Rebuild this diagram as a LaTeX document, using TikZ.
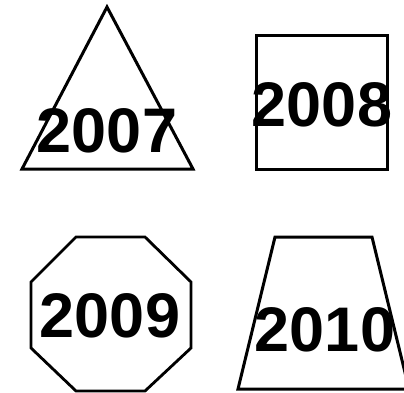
\documentclass[tikz,border=0pt]{standalone}
\usepackage{fontspec}
\setmainfont{Liberation Sans}
\begin{document}
\begin{tikzpicture}[x=1pt,y=-1pt,line join=miter,
  every node/.style={font=\fontsize{63}{63}\selectfont\bfseries,inner sep=0pt}]
  \useasboundingbox (0,0) rectangle (404,393);
  % shapes
  \draw[line width=3pt] (107,7) -- (193,169) -- (22,169) -- cycle;
  \draw[line width=3pt] (256,36) rectangle (387,169);
  \draw[line width=2.8pt] (76,237) -- (145,237) -- (191,282) -- (191,348) -- (145,391) -- (76,391) -- (31,348) -- (31,282) -- cycle;
  \draw[line width=3pt] (275,237) -- (372,237) -- (409,389) -- (238,389) -- cycle;
  % years
  \node (y2007) at (107,131) {2007};
  \node (y2008) at (322,105) {2008};
  \node (y2009) at (110,316) {2009};
  \node (y2010) at (325,330) {2010};
\end{tikzpicture}
\end{document}
